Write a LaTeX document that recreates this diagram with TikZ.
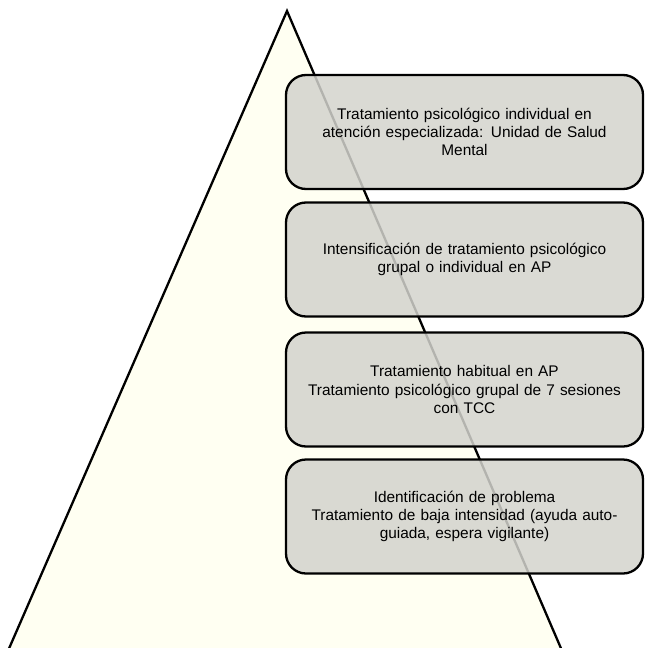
\documentclass[tikz,border=0pt]{standalone}
\usepackage{fontspec}
\setmainfont{Liberation Sans}
\definecolor{cream}{RGB}{255,255,242}
\definecolor{boxgray}{RGB}{211,211,205}
\begin{document}
\begin{tikzpicture}[x=1pt,y=-1pt,
  levelbox/.style={draw=black, line width=2.3pt, rounded corners=20pt,
    fill=boxgray, fill opacity=0.85, text opacity=1,
    minimum width=357pt, minimum height=114pt, inner sep=0pt,
    text width=330pt, align=center,
    font=\fontsize{15.4pt}{18.2pt}\selectfont, text=black},
  pyr/.style={draw=black, line width=2.3pt, fill=cream, line join=miter}]
\useasboundingbox (0,0) rectangle (646,648);
\clip (0,0) rectangle (646,648);
\coordinate (apex) at (287,11);
\coordinate (bl) at (4,660);
\coordinate (br) at (566,660);
\draw[pyr] (apex) -- (bl) -- (br) -- cycle;
\node[levelbox] (l4) at (464.5,132) {Tratamiento psicológico individual en\\atención especializada: Unidad de Salud\\Mental};
\node[levelbox] (l3) at (464.5,259.5) {Intensificación de tratamiento psicológico\\grupal o individual en AP};
\node[levelbox] (l2) at (464.5,389.5) {Tratamiento habitual en AP\\Tratamiento psicológico grupal de 7 sesiones\\con TCC};
\node[levelbox] (l1) at (464.5,516.5) {Identificación de problema\\Tratamiento de baja intensidad (ayuda auto-\\guiada, espera vigilante)};
\end{tikzpicture}
\end{document}
